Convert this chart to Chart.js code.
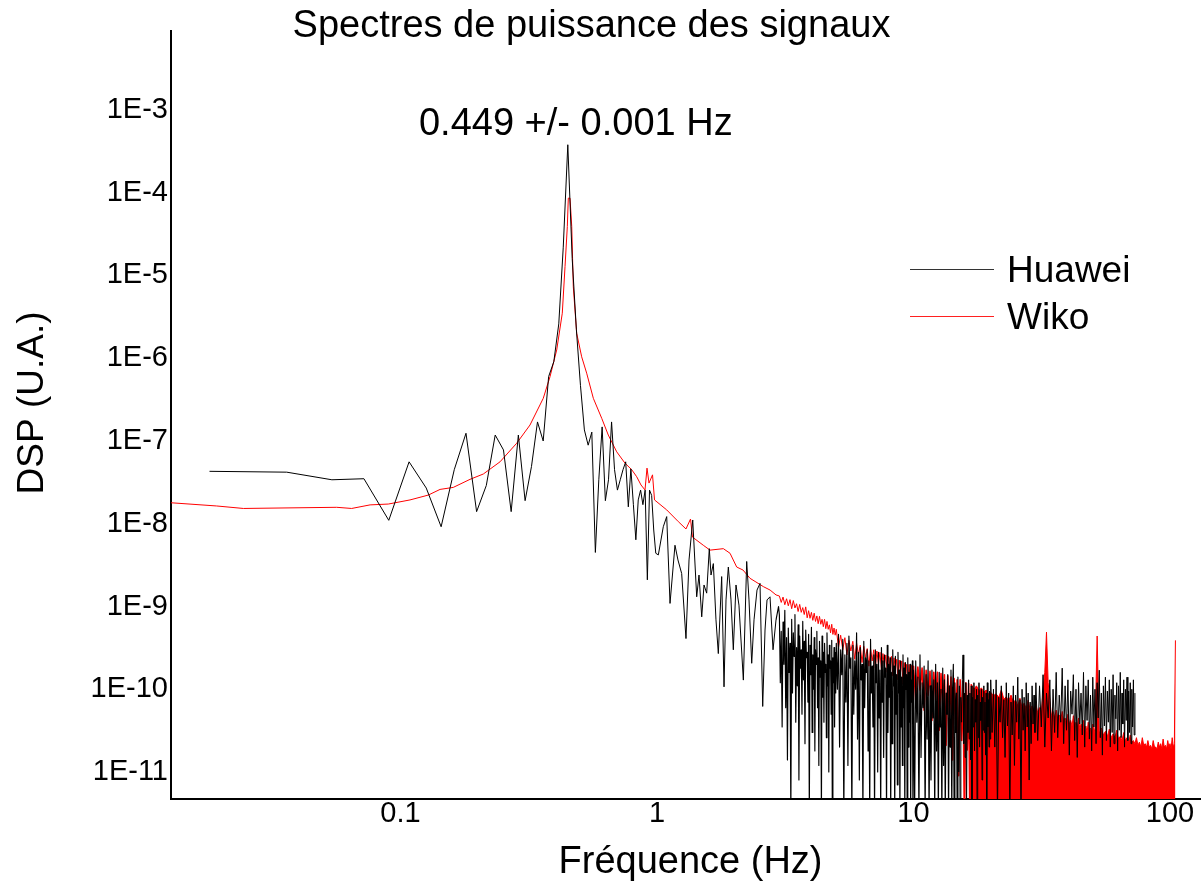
<!DOCTYPE html>
<html><head><meta charset="utf-8">
<script src="https://cdn.jsdelivr.net/npm/chart.js@4/dist/chart.umd.min.js"></script>
<style>html,body{margin:0;padding:0;background:#fff;overflow:hidden}#wrap{width:1201px;height:883px;position:relative}</style>
</head><body><div id="wrap"><canvas id="c"></canvas></div>
<script>
const chartTitle = 'Spectres de puissance des signaux';
const xAxisTitle = 'Fréquence (Hz)';
const yAxisTitle = 'DSP (U.A.)';
const peakLabel = '0.449 +/- 0.001 Hz';
const peakFreq = 0.449;
const seriesNames = ['Huawei', 'Wiko'];
const xTickValues = [0.1, 1, 10, 100];
const xTickLabels = ['0.1', '1', '10', '100'];
const yTickValues = [1e-3, 1e-4, 1e-5, 1e-6, 1e-7, 1e-8, 1e-9, 1e-10, 1e-11];
const yTickLabels = ['1E-3', '1E-4', '1E-5', '1E-6', '1E-7', '1E-8', '1E-9', '1E-10', '1E-11'];

// Huawei, 0.018 - 3 Hz
const huaweiFreqLow = [0.018,0.036,0.054,0.072,0.090,0.108,0.126,0.144,0.162,0.180,
0.198,0.216,0.234,0.252,0.270,0.288,0.306,0.324,0.342,0.360,
0.378,0.396,0.414,0.431,0.449,0.467,0.485,0.503,0.521,0.539,
0.557,0.575,0.593,0.611,0.629,0.647,0.665,0.683,0.701,0.719,
0.737,0.755,0.773,0.791,0.809,0.827,0.845,0.863,0.881,0.899,
0.917,0.935,0.953,0.971,0.989,
1.012,1.058,1.091,1.124,1.175,1.207,1.248,1.297,1.333,1.378,
1.428,1.458,1.494,1.525,1.562,1.599,1.624,1.658,1.698,1.734,
1.787,1.825,1.858,1.897,1.943,1.984,2.032,2.087,2.171,2.237,
2.284,2.340,2.389,2.454,2.521,2.583,2.637,2.685,2.758,2.834,
2.911,2.977];
const huaweiPsdLow = [4.3e-8,4.2e-8,3.4e-8,3.5e-8,1.1e-8,5.6e-8,2.7e-8,9.2e-9,4.5e-8,1.24e-7,
1.4e-8,2.9e-8,1.18e-7,7.8e-8,1.4e-8,1.18e-7,1.9e-8,4.9e-8,1.7e-7,1.0e-7,
6.0e-7,9.1e-7,2.6e-6,2.2e-5,3.8e-4,1.6e-5,2.2e-6,4.7e-7,1.36e-7,8.9e-8,
1.28e-7,4.5e-9,3.4e-8,1.48e-7,1.9e-8,3.4e-8,1.7e-7,4.5e-8,2.55e-8,3.4e-8,
4.5e-8,5.6e-8,1.6e-8,4.6e-8,1.7e-8,6.4e-9,1.94e-8,2.55e-8,1.7e-8,2.55e-8,
2.1e-9,2.55e-8,2.2e-8,8.4e-9,4.4e-9,
4.2e-9,9.2e-9,1.22e-8,1.09e-9,5.5e-9,3.65e-9,2.5e-9,4.1e-10,3.65e-9,1.11e-8,
1.31e-9,2.4e-9,7.5e-10,1.82e-9,1.45e-9,5.0e-9,2.4e-9,3.3e-9,6.9e-10,2.7e-10,
2.3e-9,1.07e-10,1.2e-9,3.0e-9,1.2e-9,3.0e-10,1.82e-9,1.04e-9,1.29e-10,3.5e-9,
1.2e-9,2.06e-10,6.9e-10,1.58e-9,1.9e-9,6.2e-11,5.2e-10,1.2e-9,1.31e-9,3.0e-10,
6.9e-10,1.0e-9];

// Huawei, 3 - 73 Hz (noisy part)
const huaweiFreqHigh = [3.000,3.025,3.050,3.075,3.100,3.125,3.150,3.175,3.200,3.225,3.250,3.275,3.300,3.325,3.350,3.375,3.400,3.425,3.450,3.475,
3.500,3.525,3.550,3.575,3.600,3.625,3.650,3.675,3.700,3.725,3.750,3.775,3.800,3.825,3.850,3.875,3.900,3.925,3.950,3.975,
4.000,4.025,4.050,4.075,4.100,4.125,4.150,4.175,4.200,4.225,4.250,4.275,4.300,4.325,4.350,4.375,4.400,4.425,4.450,4.475,
4.500,4.525,4.550,4.575,4.600,4.625,4.650,4.675,4.700,4.725,4.750,4.775,4.800,4.825,4.850,4.875,4.900,4.925,4.950,4.975,5.000,
5.05,5.10,5.15,5.20,5.25,5.30,5.35,5.40,5.45,5.50,5.55,5.60,5.65,5.70,5.75,5.80,5.85,5.90,5.95,
6.00,6.05,6.10,6.15,6.20,6.25,6.30,6.35,6.40,6.45,6.50,6.55,6.60,6.65,6.70,6.75,6.80,6.85,6.90,6.95,
7.00,7.05,7.10,7.15,7.20,7.25,7.30,7.35,7.40,7.45,7.50,7.55,7.60,7.65,7.70,7.75,7.80,7.85,7.90,7.95,
8.00,8.05,8.10,8.15,8.20,8.25,8.30,8.35,8.40,8.45,8.50,8.55,8.60,8.65,8.70,8.75,8.80,8.85,8.90,8.95,
9.00,9.05,9.10,9.15,9.20,9.25,9.30,9.35,9.40,9.45,9.50,9.55,9.60,9.65,9.70,9.75,9.80,9.85,9.90,9.95,10.00,
10.1,10.2,10.3,10.4,10.5,10.6,10.7,10.8,10.9,11.0,11.1,11.2,11.3,11.4,11.5,11.6,11.7,11.8,11.9,
12.0,12.1,12.2,12.3,12.4,12.5,12.6,12.7,12.8,12.9,13.0,13.1,13.2,13.3,13.4,13.5,13.6,13.7,13.8,13.9,
14.0,14.1,14.2,14.3,14.4,14.5,14.6,14.7,14.8,14.9,15.0,15.1,15.2,15.3,15.4,15.5,15.6,15.7,15.8,15.9,
16.0,16.1,16.2,16.3,16.4,16.5,16.6,16.7,16.8,16.9,17.0,17.1,17.2,17.3,17.4,17.5,17.6,17.7,17.8,17.9,
18.0,18.1,18.2,18.3,18.4,18.5,18.6,18.7,18.8,18.9,19.0,19.1,19.2,19.3,19.4,19.5,19.6,19.7,19.8,19.9,20.0,
20.25,20.5,20.75,21.0,21.25,21.5,21.75,22.0,22.25,22.5,22.75,23.0,23.25,23.5,23.75,24.0,24.25,24.5,24.75,25.0,
25.25,25.5,25.75,26.0,26.25,26.5,26.75,27.0,27.25,27.5,27.75,28.0,28.25,28.5,28.75,29.0,29.25,29.5,29.75,30.0,
30.5,31,31.5,32,32.5,33,33.5,34,34.5,35,35.5,36,36.5,37,37.5,38,38.5,39,39.5,40,
40.5,41,41.5,42,42.5,43,43.5,44,44.5,45,45.5,46,46.5,47,47.5,48,48.5,49,49.5,50,
50.5,51,51.5,52,52.5,53,53.5,54,54.5,55,55.5,56,56.5,57,57.5,58,58.5,59,59.5,60,
60.5,61,61.5,62,62.5,63,63.5,64,64.5,65,65.5,66,66.5,67,67.5,68,68.5,69,69.5,70,
70.5,71,71.5,72,72.5,73];
const huaweiPsdHigh = [7.9e-10,1.2e-10,5.0e-10,3.5e-11,6.5e-10,2.0e-10,9.0e-10,6.0e-11,4.2e-10,1.4e-11,5.5e-10,1.6e-10,3.6e-10,3e-12,7.0e-10,9.0e-11,4.8e-10,2.5e-10,8.0e-10,4.0e-11,
3.2e-10,1.1e-10,6.0e-10,8e-12,4.4e-10,1.8e-10,3.0e-10,5.0e-11,6.6e-10,1.3e-10,3.8e-10,2.2e-11,5.2e-10,2.4e-10,2.8e-10,7.0e-11,4.6e-10,3e-12,3.4e-10,1.5e-10,
5.6e-10,3.0e-11,2.6e-10,1.0e-10,4.2e-10,1.8e-11,3.0e-10,2.0e-10,5.0e-10,6.0e-11,2.4e-10,1.2e-11,3.8e-10,1.4e-10,2.2e-10,3e-12,4.4e-10,8.0e-11,2.8e-10,4.0e-11,
3.6e-10,1.6e-10,2.0e-10,2.6e-11,4.8e-10,1.1e-10,2.6e-10,1.0e-11,3.4e-10,1.8e-10,2.2e-10,5.0e-11,3.9e-10,3e-12,2.4e-10,1.2e-10,3.2e-10,3.5e-11,2.8e-10,9.0e-11,3.6e-10,
1.0e-10,4.6e-10,2.0e-11,3.0e-10,1.5e-10,4.0e-10,3e-12,2.6e-10,7.0e-11,3.6e-10,1.2e-11,4.4e-10,1.8e-10,2.4e-10,3e-12,3.4e-10,5.0e-11,2.2e-10,1.0e-10,
4.8e-10,2.5e-11,2.8e-10,8e-12,3.2e-10,1.3e-10,2.0e-10,3e-12,3.8e-10,6.0e-11,2.4e-10,1.6e-10,3.0e-10,1.8e-11,2.2e-10,3e-12,4.0e-10,9.0e-11,1.9e-10,3.5e-11,
2.6e-10,3e-12,3.0e-10,1.2e-10,2.0e-10,1.0e-11,2.8e-10,4.5e-11,1.7e-10,3e-12,3.2e-10,7.0e-11,2.2e-10,1.5e-11,2.6e-10,1.4e-10,1.8e-10,3e-12,3.4e-10,3.0e-11,
2.0e-10,8.0e-11,2.4e-10,3e-12,1.6e-10,2.2e-11,3.0e-10,1.1e-10,1.9e-10,3e-12,2.5e-10,5.0e-11,1.5e-10,7e-12,2.8e-10,9.0e-11,1.7e-10,3e-12,2.2e-10,3.5e-11,
1.4e-10,1.2e-11,2.6e-10,6.0e-11,1.8e-10,3e-12,2.1e-10,1.0e-10,1.5e-10,3e-12,2.4e-10,2.0e-11,1.6e-10,4.0e-11,2.0e-10,3e-12,1.3e-10,7.0e-11,2.2e-10,3e-12,1.7e-10,
3e-12,2.2e-10,4.0e-11,1.4e-10,3e-12,2.6e-10,1.5e-11,1.2e-10,6.0e-11,1.9e-10,3e-12,1.5e-10,2.5e-11,2.2e-10,3e-12,1.1e-10,8e-12,1.7e-10,4.5e-11,
1.3e-10,3e-12,2.0e-10,1.8e-11,1.2e-10,3e-12,1.6e-10,3.5e-11,1.0e-10,3e-12,1.8e-10,1.2e-11,1.3e-10,3e-12,9.0e-11,5.0e-11,1.5e-10,3e-12,1.1e-10,2.0e-11,
1.7e-10,3e-12,1.0e-10,2.0e-10,3e-12,1.2e-10,3.0e-11,9.0e-11,3e-12,1.4e-10,1.0e-11,1.1e-10,3e-12,8.0e-11,4.0e-11,1.3e-10,2.6e-10,2.2e-11,9.0e-11,1.5e-11,
1.2e-10,3e-12,8.5e-11,3.0e-11,1.3e-10,2.5e-11,9.0e-11,1.4e-11,1.1e-10,3e-12,8.0e-11,3.5e-11,1.2e-10,1.8e-11,7.5e-11,4.0e-11,1.0e-10,3e-12,8.5e-11,2.6e-11,
1.2e-10,2.0e-11,7.0e-11,4.2e-11,1.0e-10,8e-12,8.0e-11,3.2e-11,1.1e-10,3.0e-11,7.0e-11,1.6e-11,9.0e-11,3e-12,1.2e-10,3.5e-11,7.5e-11,2.0e-11,9.5e-11,2.5e-11,1.3e-10,
3.0e-11,1.0e-10,2.0e-11,1.3e-10,3e-12,8.0e-11,4.0e-11,1.1e-10,2.6e-11,7.5e-11,1.5e-11,1.2e-10,3.6e-11,9.0e-11,3e-12,7.0e-11,2.8e-11,1.1e-10,1.2e-11,8.5e-11,
4.0e-11,1.4e-10,2.5e-11,7.5e-11,3e-12,1.0e-10,3.2e-11,8.0e-11,1.8e-11,1.2e-10,3.5e-11,9.0e-11,8e-12,7.0e-11,2.2e-11,1.1e-10,3.8e-11,8.5e-11,3.0e-11,1.2e-10,
2.4e-11,1.1e-10,3.5e-11,1.5e-10,2.0e-11,9.0e-11,4.5e-11,1.3e-10,1.8e-11,1.0e-10,3.0e-11,1.6e-10,2.6e-11,8.5e-11,4.0e-11,1.8e-10,2.2e-11,1.1e-10,3.2e-11,1.3e-10,
1.6e-11,9.5e-11,5.0e-11,1.5e-10,2.4e-11,1.0e-10,1.5e-11,1.2e-10,3.8e-11,9.0e-11,2.8e-11,1.6e-10,2.0e-11,1.1e-10,4.2e-11,1.3e-10,2.5e-11,8.5e-11,1.8e-11,1.4e-10,
3.5e-11,1.0e-10,2.2e-11,1.2e-10,4.5e-11,1.7e-10,2.6e-11,9.0e-11,1.6e-11,1.1e-10,3.6e-11,1.4e-10,2.4e-11,9.5e-11,4.0e-11,1.3e-10,2.0e-11,1.0e-10,3.0e-11,1.5e-10,
2.2e-11,8.5e-11,4.4e-11,1.2e-10,1.8e-11,1.1e-10,3.2e-11,1.6e-10,2.6e-11,9.0e-11,3.8e-11,1.3e-10,2.0e-11,1.0e-10,4.2e-11,1.4e-10,2.4e-11,9.5e-11,3.0e-11,1.2e-10,
2.2e-11,1.0e-10,3.5e-11,1.3e-10,2.8e-11,9.0e-11];

// Wiko, 0.0125 - 3 Hz
const wikoFreqLow = [0.0125,0.0192,0.0244,0.0564,0.0645,0.0761,0.0896,0.1089,0.1283,0.1426,
0.1606,0.1866,0.2103,0.2443,0.2838,0.3198,0.3602,0.3827,0.4064,0.4273,
0.4379,0.4470,0.4510,0.4580,0.4651,0.4717,0.4863,0.5085,0.5318,0.5646,
0.6088,0.6457,0.6965,0.7500,0.7968,0.8333,0.8662,0.8979,0.9142,0.9307,
0.9605,0.978,1.091,1.211,1.297,1.351,1.375,1.515,1.609,1.814,
1.926,2.045,2.164,2.305,2.43,2.597,2.76,2.911];
const wikoPsdLow = [1.8e-8,1.64e-8,1.53e-8,1.58e-8,1.53e-8,1.69e-8,1.73e-8,1.94e-8,2.22e-8,2.6e-8,
2.75e-8,3.44e-8,3.99e-8,5.6e-8,9.4e-8,1.56e-7,3.28e-7,5.98e-7,1.26e-6,3.5e-6,
1.28e-5,3.9e-5,8.6e-5,8.6e-5,3.9e-5,7.3e-6,2.0e-6,1.04e-6,6.6e-7,3.28e-7,
1.88e-7,1.18e-7,7.4e-8,5.4e-8,4.5e-8,3.7e-8,2.94e-8,2.56e-8,4.7e-8,3.1e-8,
3.9e-8,1.94e-8,1.47e-8,1.06e-8,8.65e-9,1.14e-8,6.9e-9,5.5e-9,4.8e-9,5.0e-9,
4.4e-9,3.0e-9,2.76e-9,2.19e-9,1.98e-9,1.74e-9,1.58e-9,1.38e-9];

// Wiko, 3 - 16.8 Hz (noisy part, drawn as a line)
const wikoFreqHigh = [3.00,3.05,3.10,3.15,3.20,3.25,3.30,3.35,3.40,3.45,3.50,3.55,3.60,3.65,3.70,3.75,3.80,3.85,3.90,3.95,
4.00,4.05,4.10,4.15,4.20,4.25,4.30,4.35,4.40,4.45,4.50,4.55,4.60,4.65,4.70,4.75,4.80,4.85,4.90,4.95,5.00,
5.1,5.2,5.3,5.4,5.5,5.6,5.7,5.8,5.9,6.0,6.1,6.2,6.3,6.4,6.5,6.6,6.7,6.8,6.9,7.0,
7.1,7.2,7.3,7.4,7.5,7.6,7.7,7.8,7.9,8.0,8.1,8.2,8.3,8.4,8.5,8.6,8.7,8.8,8.9,9.0,
9.1,9.2,9.3,9.4,9.5,9.6,9.7,9.8,9.9,10.0,
10.2,10.4,10.6,10.8,11.0,11.2,11.4,11.6,11.8,12.0,12.2,12.4,12.6,12.8,13.0,13.2,13.4,13.6,13.8,14.0,
14.2,14.4,14.6,14.8,15.0,15.2,15.4,15.6,15.8,16.0,16.2,16.4,16.6,16.8];
const wikoPsdHigh = [1.34e-9,1.12e-9,1.30e-9,1.05e-9,1.24e-9,1.02e-9,1.21e-9,9.4e-10,1.18e-9,9.6e-10,
1.08e-9,8.7e-10,1.06e-9,8.5e-10,9.7e-10,8.0e-10,9.9e-10,7.3e-10,8.9e-10,7.2e-10,
8.5e-10,6.8e-10,8.3e-10,6.6e-10,7.7e-10,6.2e-10,7.6e-10,6.1e-10,7.0e-10,5.7e-10,
7.0e-10,5.4e-10,6.6e-10,5.3e-10,6.0e-10,4.8e-10,6.1e-10,4.6e-10,5.5e-10,4.5e-10,
5.3e-10,
3.2e-10,4.5e-10,3.0e-10,4.2e-10,2.6e-10,3.9e-10,2.9e-10,3.8e-10,2.3e-10,3.6e-10,
2.6e-10,3.4e-10,2.1e-10,3.3e-10,2.4e-10,3.1e-10,1.9e-10,3.1e-10,2.2e-10,3.0e-10,
1.8e-10,2.9e-10,2.0e-10,2.8e-10,1.7e-10,2.7e-10,1.9e-10,2.6e-10,1.6e-10,2.5e-10,
1.8e-10,2.5e-10,1.45e-10,2.4e-10,1.7e-10,2.3e-10,1.3e-10,2.25e-10,1.6e-10,2.2e-10,
1.15e-10,2.1e-10,1.5e-10,2.0e-10,1.05e-10,2.0e-10,1.35e-10,1.95e-10,8.5e-11,1.9e-10,
7.4e-11,1.85e-10,9.8e-11,1.8e-10,5.6e-11,1.7e-10,8.5e-11,1.65e-10,4.2e-11,1.6e-10,
7.4e-11,1.6e-10,3.2e-11,1.55e-10,6.5e-11,1.5e-10,2.1e-11,1.45e-10,4.9e-11,1.4e-10,
1.4e-11,1.35e-10,3.7e-11,1.3e-10,9e-12,1.3e-10,2.4e-11,1.25e-10,2e-12,1.2e-10,
1.85e-11,1.17e-10,2e-12,1.15e-10];

// Wiko, 16.8 - 105 Hz: top edge of the solid noise floor (filled down to the axis)
const wikoFreqFloor = [16.8,17.2,17.6,18.0,18.4,18.8,19.2,19.6,
20.0,20.5,21,21.5,22,22.5,23,23.5,24,24.5,25,25.5,26,26.5,27,27.5,28,28.5,29,29.5,30,
30.5,31,31.5,32,32.5,33,33.5,34,34.5,35,35.5,36,36.5,37,37.5,38,38.5,39,39.5,40,
40.5,41,41.5,42,42.5,43,43.5,44,44.5,45,45.5,46,46.5,47,47.5,48,48.5,49,49.5,50,
51,52,53,54,55,56,57,58,59,60,61,62,63,64,65,66,67,68,69,70,
71,72,73,74,75,76,77,78,79,80,81,82,83,84,85,86,87,88,89,90,
91,92,93,94,95,96,97,98,99,100,101,102,103,104,105];
const wikoPsdFloor = [1.15e-10,1.0e-10,1.1e-10,9.6e-11,1.04e-10,9.2e-11,9.8e-11,8.8e-11,
9.2e-11,8.4e-11,8.8e-11,8.0e-11,9.8e-11,7.6e-11,8.1e-11,7.2e-11,8.5e-11,7.0e-11,7.4e-11,6.3e-11,7.8e-11,6.0e-11,6.8e-11,5.8e-11,7.4e-11,5.6e-11,6.3e-11,5.5e-11,6.6e-11,
5.2e-11,6.0e-11,5.0e-11,9.8e-11,1.6e-10,4.9e-10,1.2e-10,7.4e-11,4.8e-11,5.4e-11,4.5e-11,5.6e-11,4.4e-11,4.9e-11,4.2e-11,5.4e-11,4.1e-11,4.5e-11,3.9e-11,5.0e-11,
3.8e-11,4.2e-11,3.6e-11,4.8e-11,3.5e-11,4.0e-11,3.4e-11,4.5e-11,3.3e-11,3.8e-11,3.2e-11,4.2e-11,3.1e-11,3.6e-11,3.0e-11,4.0e-11,3.0e-11,3.4e-11,2.9e-11,3.8e-11,
3.0e-11,4.4e-10,2.9e-11,3.4e-11,2.8e-11,3.1e-11,2.7e-11,3.3e-11,2.6e-11,2.9e-11,2.6e-11,3.2e-11,2.5e-11,2.7e-11,2.4e-11,3.0e-11,2.4e-11,2.6e-11,2.3e-11,2.8e-11,
2.3e-11,2.4e-11,2.2e-11,2.6e-11,2.1e-11,2.3e-11,2.0e-11,2.6e-11,2.1e-11,2.2e-11,2.0e-11,2.4e-11,2.0e-11,2.1e-11,1.9e-11,2.4e-11,2.0e-11,2.0e-11,1.9e-11,2.3e-11,
2.0e-11,2.2e-11,1.9e-11,2.5e-11,2.0e-11,2.1e-11,1.9e-11,2.4e-11,2.0e-11,2.2e-11,1.9e-11,2.6e-11,2.0e-11,2.2e-11,3.9e-10];

function pairs(f, v) { return v.map((y, i) => ({ x: f[i], y: y })); }
const huaweiData = pairs(huaweiFreqLow, huaweiPsdLow).concat(pairs(huaweiFreqHigh, huaweiPsdHigh));
const wikoLine = pairs(wikoFreqLow, wikoPsdLow).concat(pairs(wikoFreqHigh, wikoPsdHigh));
const wikoFloor = pairs(wikoFreqFloor, wikoPsdFloor);

const FONT = '"Liberation Sans", Arial, sans-serif';
Chart.defaults.font.family = FONT;
Chart.defaults.color = '#000';

const textPlugin = {
  id: 'texts',
  afterDraw(chart) {
    const ctx = chart.ctx;
    ctx.save();
    ctx.fillStyle = '#000';
    ctx.textBaseline = 'alphabetic';
    ctx.textAlign = 'center';
    ctx.font = '38px ' + FONT;
    ctx.fillText(chartTitle, 591.5, 37);
    const px = chart.scales.x.getPixelForValue(peakFreq);
    ctx.fillText(peakLabel, px + 8, 135);
    ctx.fillText(xAxisTitle, 690.5, 873);
    ctx.font = '37px ' + FONT;
    ctx.save();
    ctx.translate(43, 403);
    ctx.rotate(-Math.PI / 2);
    ctx.fillText(yAxisTitle, 0, 0);
    ctx.restore();
    const rows = [269.5, 316.5];
    chart.data.datasets.filter(ds => ds.inLegend).forEach((ds, i) => {
      ctx.strokeStyle = ds.legendColor;
      ctx.lineWidth = 1;
      ctx.beginPath();
      ctx.moveTo(910, rows[i]);
      ctx.lineTo(994, rows[i]);
      ctx.stroke();
      ctx.textAlign = 'left';
      ctx.fillStyle = '#000';
      ctx.fillText(ds.label, 1007, rows[i] + 12.5);
    });
    ctx.restore();
  }
};

new Chart(document.getElementById('c'), {
  type: 'line',
  data: {
    datasets: [
      { label: seriesNames[0], inLegend: true, data: huaweiData, borderColor: '#000000', legendColor: '#333333', borderWidth: 1, pointRadius: 0, tension: 0, borderJoinStyle: 'round', fill: false,
        segment: { borderWidth: (c) => (c.p0.parsed.x >= 2.9 && c.p0.parsed.x < 15) ? 1.15 : 1 } },
      { label: seriesNames[1], inLegend: true, data: wikoLine, borderColor: '#ff0000', legendColor: '#ff2020', borderWidth: 1, pointRadius: 0, tension: 0, borderJoinStyle: 'round', fill: false,
        segment: { borderWidth: (c) => c.p0.parsed.x >= 9.9 ? 1.6 : 1 } },
      { label: seriesNames[1], inLegend: false, data: wikoFloor, borderColor: '#ff0000', backgroundColor: '#ff0000', borderWidth: 1, pointRadius: 0, tension: 0, borderJoinStyle: 'round', fill: 'start' }
    ]
  },
  options: {
    responsive: true,
    maintainAspectRatio: false,
    devicePixelRatio: 1,
    animation: false,
    layout: { padding: { top: 31, left: 0, right: 0, bottom: 0 } },
    plugins: { legend: { display: false }, tooltip: { enabled: false }, title: { display: false } },
    scales: {
      x: {
        type: 'logarithmic',
        position: 'bottom',
        min: 0.01274,
        max: 132.1,
        afterBuildTicks: (s) => { s.ticks = xTickValues.map(v => ({ value: v })); },
        afterFit: (s) => { s.height = 84; },
        ticks: {
          autoSkip: false, maxRotation: 0, padding: 0,
          font: { size: 29, lineHeight: 1 }, color: '#000',
          callback: (v) => { const i = xTickValues.indexOf(v); return i >= 0 ? xTickLabels[i] : ''; }
        },
        grid: { display: true, color: 'rgba(0,0,0,0)', drawTicks: false },
        border: { display: true, color: '#000', width: 2 }
      },
      y: {
        type: 'logarithmic',
        position: 'left',
        min: 4.72e-12,
        max: 9.0e-3,
        afterBuildTicks: (s) => { s.ticks = yTickValues.map(v => ({ value: v })); },
        afterFit: (s) => { s.width = 171; },
        ticks: {
          autoSkip: false, padding: 3,
          font: { size: 29 }, color: '#000',
          callback: (v) => { const i = yTickValues.findIndex(t => Math.abs(t - v) / t < 1e-6); return i >= 0 ? yTickLabels[i] : ''; }
        },
        grid: { display: true, color: 'rgba(0,0,0,0)', drawTicks: false },
        border: { display: true, color: '#000', width: 2 }
      }
    }
  },
  plugins: [textPlugin]
});
</script>
</body></html>
